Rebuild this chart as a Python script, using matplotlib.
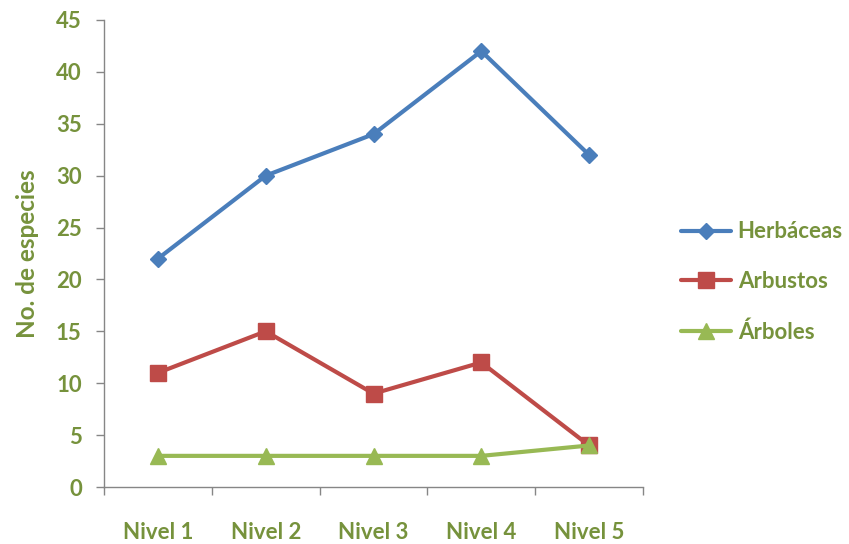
import matplotlib
matplotlib.use("Agg")
import matplotlib.pyplot as plt
from matplotlib.ticker import FixedLocator

plt.rcParams['font.family'] = ['Lato', 'DejaVu Sans']
plt.rcParams['font.weight'] = 'bold'

niveles = ["Nivel 1", "Nivel 2", "Nivel 3", "Nivel 4", "Nivel 5"]
herbaceas = [22, 30, 34, 42, 32]
arbustos = [11, 15, 9, 12, 4]
arboles = [3, 3, 3, 3, 4]

text_green = "#76923C"
axis_grey = "#868686"

fig = plt.figure(figsize=(8.49, 5.44), dpi=100)
ax = fig.add_axes([104/849, 1-487/544, (643-104)/849, (487-20)/544])

x = list(range(1, len(niveles) + 1))
ax.plot(x, herbaceas, color="#4A7EBB", lw=3, marker="D", ms=8.5,
        label="Herbáceas", solid_capstyle="round")
ax.plot(x, arbustos, color="#BE4B48", lw=3, marker="s", ms=11,
        label="Arbustos", solid_capstyle="round")
ax.plot(x, arboles, color="#98B954", lw=3, marker="^", ms=12,
        label="Árboles", solid_capstyle="round")

ax.set_xlim(0.5, len(niveles) + 0.5)
ax.set_ylim(0, 45)
ax.set_yticks(range(0, 46, 5))
ax.set_xticks(x)
ax.set_xticklabels(niveles)
ax.xaxis.set_minor_locator(FixedLocator([i + 0.5 for i in range(0, len(niveles) + 1)]))

for s in ["top", "right"]:
    ax.spines[s].set_visible(False)
for s in ["left", "bottom"]:
    ax.spines[s].set_color(axis_grey)
    ax.spines[s].set_linewidth(1.0)

ax.tick_params(axis="y", direction="out", length=6, width=1, color=axis_grey,
               pad=10, labelsize=16, labelcolor=text_green)
ax.tick_params(axis="x", which="major", length=0, pad=25,
               labelsize=16, labelcolor=text_green)
ax.tick_params(axis="x", which="minor", direction="out", length=6, width=1,
               color=axis_grey)

ax.set_ylabel("No. de especies", color=text_green, fontsize=17.5,
              fontweight="bold", labelpad=12)

leg = fig.legend(loc="center left", bbox_to_anchor=(681/849, 1-282/544),
                 frameon=False, fontsize=16, handlelength=2.25,
                 handletextpad=0.3, labelspacing=1.3, borderpad=0,
                 borderaxespad=0)
for t in leg.get_texts():
    t.set_color(text_green)
    t.set_fontweight("bold")

fig.savefig("out.png", dpi=100)
